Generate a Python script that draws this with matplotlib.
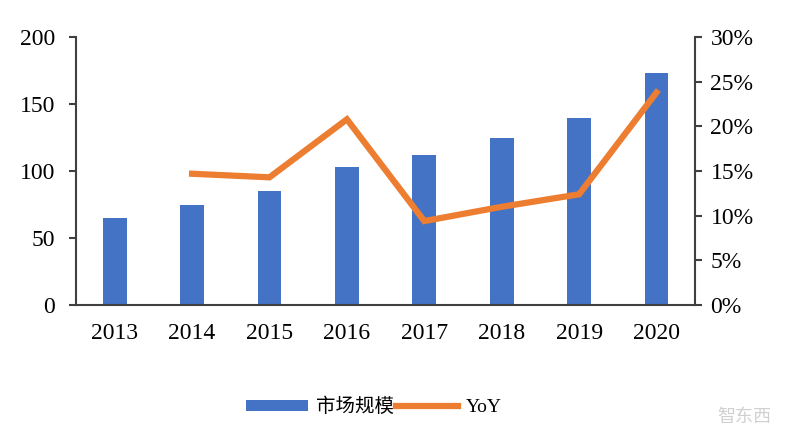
import matplotlib
matplotlib.use("Agg")
import matplotlib.pyplot as plt
from matplotlib.ticker import PercentFormatter

years = ["2013", "2014", "2015", "2016", "2017", "2018", "2019", "2020"]
market_size = [65, 75, 85, 103, 112, 125, 140, 173]
yoy_years = ["2014", "2015", "2016", "2017", "2018", "2019", "2020"]
yoy_pct = [14.7, 14.3, 20.8, 9.4, 11.0, 12.4, 23.8]

BLUE = "#4472C4"
ORANGE = "#ED7D31"
AXIS = "#404040"

plt.rcParams["font.family"] = ["Liberation Serif", "Noto Sans CJK SC"]

fig = plt.figure(figsize=(8, 4.32), dpi=100)
ax = fig.add_axes([0.095, 0.294, 0.774, 0.62])
ax2 = ax.twinx()

x = list(range(len(years)))
bars = ax.bar(x, market_size, width=0.31, color=BLUE, label="市场规模", zorder=2)
yoy_x = [years.index(y) for y in yoy_years]
line, = ax2.plot(yoy_x, yoy_pct, color=ORANGE, lw=4.5, solid_joinstyle="miter",
                 label="YoY", zorder=3)

ax.set_xlim(-0.5, len(years) - 0.5)
ax.set_ylim(0, 200)
ax.set_yticks(range(0, 201, 50))
ax2.set_ylim(0, 30)
ax2.set_yticks(range(0, 31, 5))
ax2.yaxis.set_major_formatter(PercentFormatter(decimals=0))

ax.set_xticks(x)
ax.set_xticklabels(years)

for a in (ax, ax2):
    a.spines["top"].set_visible(False)
    for s in a.spines.values():
        s.set_color(AXIS)
        s.set_linewidth(1.5)
    a.tick_params(labelsize=17, colors="black", width=1.5, length=5)
ax.spines["right"].set_visible(False)
ax2.spines["left"].set_visible(False)
ax2.spines["bottom"].set_visible(False)
ax.tick_params(axis="y", colors=AXIS, labelcolor="black", pad=10)
ax.tick_params(axis="x", length=0, pad=13)
ax2.tick_params(axis="y", colors=AXIS, labelcolor="black", pad=6)

fig.legend(handles=[bars, line], labels=["市场规模", "YoY"], loc="center",
           bbox_to_anchor=(0.467, 0.058), ncol=2, frameon=False, fontsize=14,
           handlelength=3.2, handleheight=0.5, handletextpad=0.4,
           columnspacing=0.1)

fig.text(0.93, 0.035, "智东西", color="#d0d0d0", fontsize=13, ha="center",
         va="center", family=["Noto Sans CJK SC"])

fig.savefig("out.png", dpi=100)
